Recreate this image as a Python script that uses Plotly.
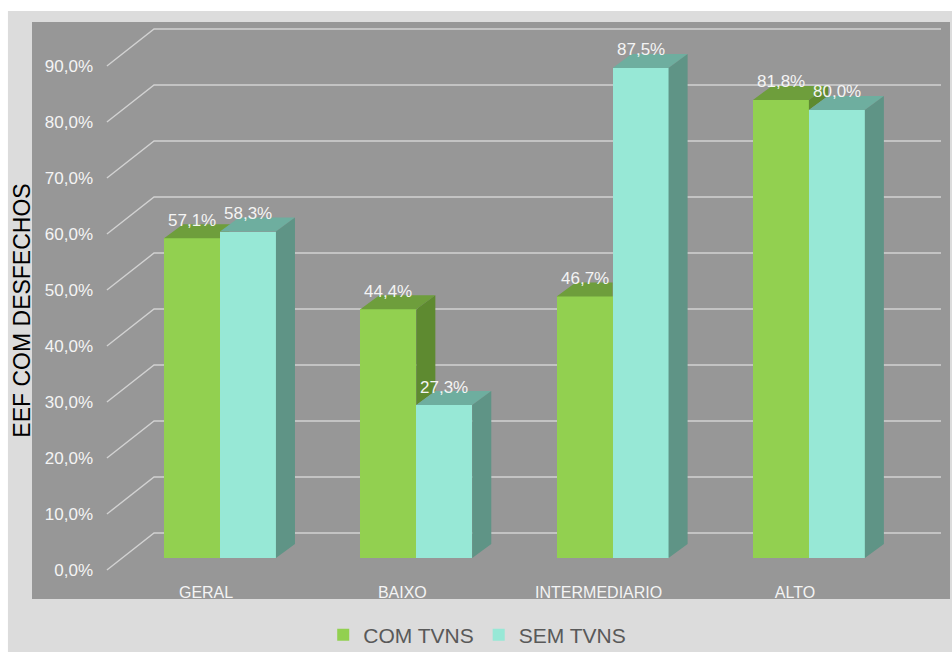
import plotly.graph_objects as go

# ---- data -------------------------------------------------------------
categories = ["GERAL", "BAIXO", "INTERMEDIARIO", "ALTO"]
com_tvns = [57.1, 44.4, 46.7, 81.8]
sem_tvns = [58.3, 27.3, 87.5, 80.0]
series_names = ["COM TVNS", "SEM TVNS"]
y_ticks = [0, 10, 20, 30, 40, 50, 60, 70, 80, 90]
y_tick_labels = ["0,0%", "10,0%", "20,0%", "30,0%", "40,0%",
                 "50,0%", "60,0%", "70,0%", "80,0%", "90,0%"]
y_title = "EEF COM DESFECHOS"

# ---- style / pseudo-3D geometry (in axis units) ------------------------
GREEN = {"front": "#92D050", "top": "#6E9E3C", "side": "#5E8A30"}
TEAL = {"front": "#97E8D6", "top": "#6EAE9F", "side": "#5F9486"}
BAR_W = 0.285          # width of one bar face
DEPTH_X = 0.097        # oblique depth offset, horizontal
DEPTH_Y = 2.5          # oblique depth offset, vertical
WALL_LIFT = 4.46       # back wall sits above the bar plane
FLOOR_DROP = 2.14      # front floor edge sits below the bar plane
WALL_X0, FLOOR_X0, WALL_X1 = -0.336, -0.576, 3.673
LABEL_SHIFT = -0.071   # category labels sit on the floor's front edge

FONT = "Liberation Sans"
LABEL_COLOR = "#F4F4F4"
xs = list(range(len(categories)))


def fmt(v):
    return f"{v:.1f}".replace(".", ",") + "%"


fig = go.Figure()

# front faces (real bars)
for name, vals, col, off in [(series_names[0], com_tvns, GREEN, -BAR_W),
                             (series_names[1], sem_tvns, TEAL, 0.0)]:
    fig.add_trace(go.Bar(
        x=xs, y=vals, name=name, offset=off, width=BAR_W,
        marker=dict(color=col["front"], line=dict(width=0)),
        hoverinfo="x+y",
    ))


def poly_trace(px, py, color):
    return go.Scatter(x=px, y=py, mode="lines", fill="toself",
                      fillcolor=color, line=dict(width=0),
                      hoverinfo="skip", showlegend=False)


# green top and side faces, trimmed where the teal front face hides them
gtx, gty, gsx, gsy = [], [], [], []
for i, (vg, vt) in enumerate(zip(com_tvns, sem_tvns)):
    x0, x1 = i - BAR_W, i
    t = min(max((vt - vg) / DEPTH_Y, 0.0), 1.0)
    gtx += [x0, x1, x1, x1 + t * DEPTH_X, x1 + DEPTH_X, x0 + DEPTH_X, None]
    gty += [vg, vg, vg + t * DEPTH_Y, vg + t * DEPTH_Y,
            vg + DEPTH_Y, vg + DEPTH_Y, None]
    lo = min(max(vt, 0.0), vg)
    gsx += [x1, x1, x1 + DEPTH_X, x1 + DEPTH_X, None]
    gsy += [lo, vg, vg + DEPTH_Y, lo + DEPTH_Y, None]
fig.add_trace(poly_trace(gtx, gty, GREEN["top"]))
fig.add_trace(poly_trace(gsx, gsy, GREEN["side"]))

# teal top and side faces
ttx, tty, tsx, tsy = [], [], [], []
for i, vt in enumerate(sem_tvns):
    x1, x2 = i, i + BAR_W
    ttx += [x1, x2, x2 + DEPTH_X, x1 + DEPTH_X, None]
    tty += [vt, vt, vt + DEPTH_Y, vt + DEPTH_Y, None]
    tsx += [x2, x2, x2 + DEPTH_X, x2 + DEPTH_X, None]
    tsy += [0, vt, vt + DEPTH_Y, DEPTH_Y, None]
fig.add_trace(poly_trace(ttx, tty, TEAL["top"]))
fig.add_trace(poly_trace(tsx, tsy, TEAL["side"]))

# back-wall gridlines with their diagonal run across the floor
shapes = []
for t in y_ticks:
    path = (f"M {FLOOR_X0},{t - FLOOR_DROP} L {WALL_X0},{t + WALL_LIFT} "
            f"L {WALL_X1},{t + WALL_LIFT}")
    shapes.append(dict(type="path", path=path, xref="x", yref="y",
                       layer="below", line=dict(color="#D2D2D2", width=1.4)))

# white page border around the light panel
shapes.append(dict(type="rect", xref="paper", yref="paper",
                   x0=-0.035, x1=-0.0262, y0=-0.1, y1=1.05,
                   fillcolor="white", line=dict(width=0), layer="below"))
shapes.append(dict(type="rect", xref="paper", yref="paper",
                   x0=-0.035, x1=1.01, y0=1.019, y1=1.05,
                   fillcolor="white", line=dict(width=0), layer="below"))

# value labels above each bar
annotations = []
for vals, off in [(com_tvns, -BAR_W / 2), (sem_tvns, BAR_W / 2)]:
    for i, v in enumerate(vals):
        annotations.append(dict(
            x=i + off, y=v + DEPTH_Y, text=fmt(v), showarrow=False,
            xanchor="center", yanchor="middle", yshift=4,
            font=dict(family=FONT, size=17, color=LABEL_COLOR),
        ))

fig.update_layout(
    width=952, height=652, autosize=False,
    margin=dict(l=32, r=2, t=22, b=53, autoexpand=False),
    paper_bgcolor="#DCDCDC", plot_bgcolor="#979797",
    barmode="overlay", bargap=0,
    shapes=shapes, annotations=annotations,
    showlegend=True,
    legend=dict(orientation="h", x=0.485, xanchor="center",
                yref="container", y=0.026, yanchor="middle",
                bgcolor="rgba(0,0,0,0)",
                font=dict(family=FONT, size=21, color="#595959")),
    xaxis=dict(range=[-0.9577, 3.7188], showgrid=False, zeroline=False,
               showline=False, ticks="",
               tickvals=[x + LABEL_SHIFT for x in xs], ticktext=categories,
               ticklabelposition="inside", ticklabelstandoff=-5,
               tickfont=dict(family=FONT, size=16, color=LABEL_COLOR)),
    yaxis=dict(range=[-7.32, 95.71], showgrid=False, zeroline=False,
               showline=False, ticks="", anchor="free",
               position=(93 - 32) / 918,
               tickvals=[t - FLOOR_DROP for t in y_ticks],
               ticktext=y_tick_labels,
               tickfont=dict(family=FONT, size=17, color=LABEL_COLOR),
               title=dict(text=y_title, standoff=6,
                          font=dict(family=FONT, size=23, color="black"))),
)

fig.write_html("out.html")
